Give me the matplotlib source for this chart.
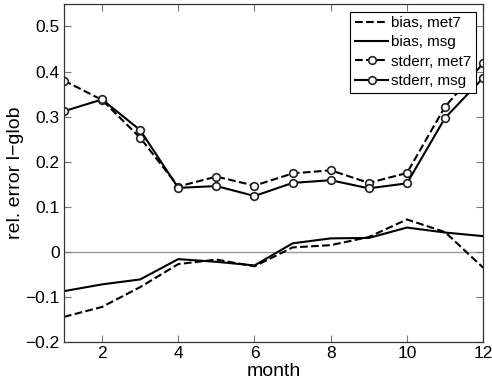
import numpy as np
import matplotlib
matplotlib.use('Agg')
import matplotlib.pyplot as plt

plt.rcParams['font.family'] = ['Liberation Sans', 'DejaVu Sans']

months = np.arange(1, 13)
bias_met7 = [-0.144, -0.122, -0.078, -0.027, -0.017, -0.032, 0.010, 0.015, 0.033, 0.072, 0.044, -0.035]
bias_msg = [-0.087, -0.072, -0.061, -0.016, -0.022, -0.030, 0.019, 0.030, 0.031, 0.054, 0.043, 0.035]
stderr_met7 = [0.380, 0.337, 0.253, 0.145, 0.167, 0.147, 0.174, 0.181, 0.153, 0.175, 0.322, 0.418]
stderr_msg = [0.312, 0.338, 0.270, 0.142, 0.146, 0.124, 0.153, 0.159, 0.141, 0.152, 0.297, 0.386]

fig = plt.figure(figsize=(4.92, 3.87), dpi=100)
ax = fig.add_axes([0.130, 0.116, 0.852, 0.874])

ax.axhline(0, color='#999999', linewidth=1.0, zorder=1)
ax.plot(months, bias_met7, 'k--', linewidth=1.5, label='bias, met7')
ax.plot(months, bias_msg, 'k-', linewidth=1.5, label='bias, msg')
ax.plot(months, stderr_met7, 'k--', linewidth=1.5, marker='o', markersize=5.5,
        markerfacecolor='white', markeredgecolor='#222222', markeredgewidth=1.2, label='stderr, met7')
ax.plot(months, stderr_msg, 'k-', linewidth=1.5, marker='o', markersize=5.5,
        markerfacecolor='white', markeredgecolor='#222222', markeredgewidth=1.2, label='stderr, msg')

ax.set_xlim(1, 12)
ax.set_ylim(-0.2, 0.55)
ax.set_xticks([2, 4, 6, 8, 10, 12])
ax.set_yticks([-0.2, -0.1, 0, 0.1, 0.2, 0.3, 0.4, 0.5])
ax.set_yticklabels(['\u22120.2', '\u22120.1', '0', '0.1', '0.2', '0.3', '0.4', '0.5'])
ax.tick_params(direction='in', top=True, right=True, labelsize=12.5, length=5,
               width=0.8, color='#777777', pad=3)
for s in ax.spines.values():
    s.set_linewidth(0.9)
    s.set_color('#333333')

ax.set_xlabel('month', fontsize=14, labelpad=1)
ax.set_ylabel('rel. error l\u2212glob', fontsize=14, labelpad=1)

leg = ax.legend(loc='upper right', fontsize=11, frameon=True, fancybox=False,
                edgecolor='k', handlelength=2.2, handletextpad=0.15, borderpad=0.3,
                labelspacing=0.35, borderaxespad=0.5, framealpha=1)
leg.get_frame().set_linewidth(0.8)

fig.savefig('out.png', dpi=100)
